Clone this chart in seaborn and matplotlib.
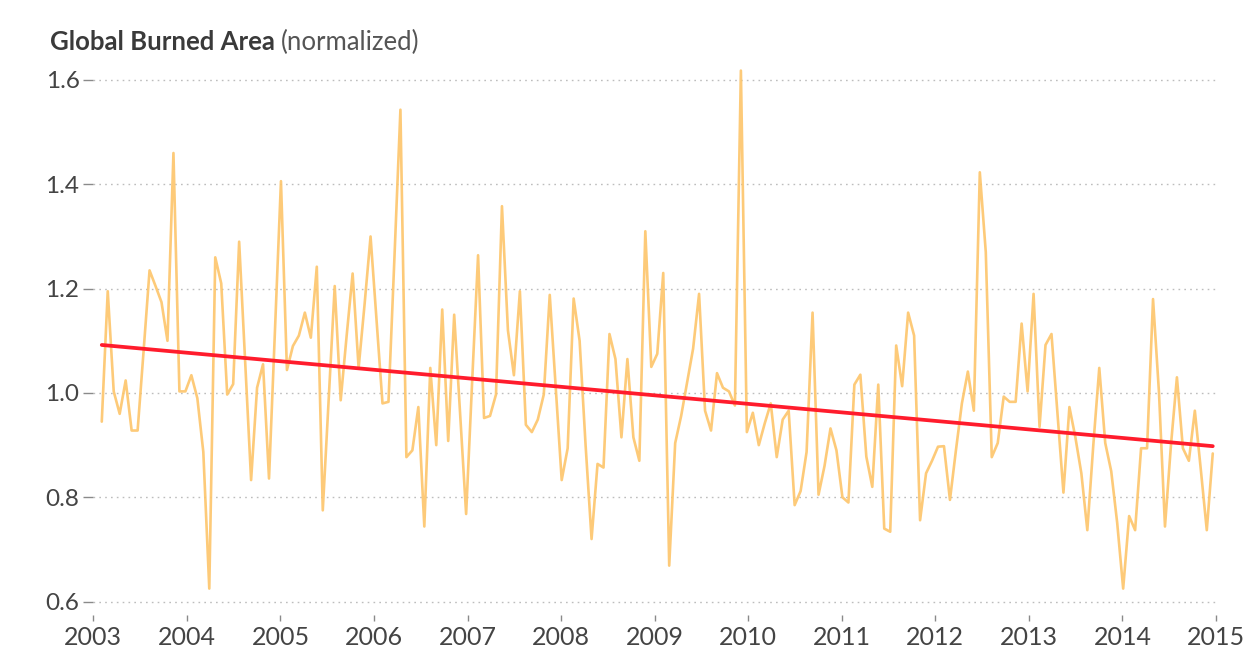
import numpy as np
import pandas as pd
import seaborn as sns
import matplotlib.pyplot as plt

# values, in time order (2003 -> end of 2014)
burned_area = [
    0.945, 1.195, 1.003, 0.96, 1.024, 0.928, 0.928, 1.08, 1.235, 1.205, 1.174, 1.10, 1.46, 1.003, 1.003,
    1.034, 0.99, 0.887, 0.625, 1.26, 1.21, 0.997, 1.017, 1.29, 1.06, 0.833, 1.01, 1.055, 0.836, 1.12, 1.406,
    1.044, 1.09, 1.11, 1.154, 1.106, 1.242, 0.775, 0.99, 1.205, 0.986, 1.11, 1.229, 1.048, 1.17, 1.30,
    1.14, 0.98, 0.983, 1.26, 1.543,
    0.877, 0.89, 0.973, 0.744, 1.048, 0.90, 1.16, 0.908, 1.15, 0.96, 0.768, 1.02, 1.264,
    0.952, 0.956, 0.997, 1.358, 1.12, 1.034, 1.195, 0.939, 0.925, 0.949, 0.997, 1.188, 1.01, 0.833,
    0.894, 1.181, 1.10, 0.9, 0.72,
    0.864, 0.857, 1.113, 1.065, 0.915, 1.065, 0.915, 0.87, 1.31,
    1.05, 1.075, 1.23, 0.669, 0.904, 0.956, 1.02, 1.085, 1.19, 0.966, 0.928, 1.038, 1.01, 1.003, 0.976, 1.618,
    0.925, 0.962, 0.90, 0.942, 0.98, 0.877, 0.949, 0.966, 0.785, 0.812, 0.887, 1.154, 0.805, 0.86, 0.932,
    0.89, 0.80, 0.79,
    1.016, 1.035, 0.878, 0.82, 1.016, 0.74, 0.734, 1.091, 1.013, 1.154, 1.11, 0.756, 0.846, 0.87, 0.897,
    0.898, 0.795, 0.89,
    0.98, 1.041, 0.966, 1.423, 1.27, 0.877, 0.904, 0.993, 0.983, 0.983, 1.133, 1.003, 1.19,
    0.935, 1.092, 1.113, 0.96, 0.809, 0.973, 0.915, 0.846, 0.737, 0.9, 1.048, 0.904, 0.85, 0.751, 0.625,
    0.764, 0.737, 0.894, 0.894, 1.18, 1.0, 0.744, 0.9, 1.03, 0.894, 0.87, 0.966, 0.853, 0.737, 0.884,
]
start_year = 2003.09
end_year = 2014.965

# linear trend (red line), value at the first and last time step
trend_values = [1.092, 0.898]

year_ticks = list(range(2003, 2016))
y_ticks = [0.6, 0.8, 1.0, 1.2, 1.4, 1.6]
y_tick_labels = ["0.6", "0.8", "1.0", "1.2", "1.4", "1.6"]

df = pd.DataFrame({"year": np.linspace(start_year, end_year, len(burned_area)),
                   "area": burned_area})
trend = pd.DataFrame({"year": [start_year, end_year], "area": trend_values})

sns.set_theme(style="white")
plt.rcParams["font.family"] = ["Lato", "DejaVu Sans"]

fig = plt.figure(figsize=(12.53, 6.53), dpi=100)
ax = fig.add_axes([0.0745, 0.0587, 0.896, 0.8428])

sns.lineplot(data=df, x="year", y="area", color="#FDC56A", linewidth=1.9, alpha=0.9, ax=ax)
sns.lineplot(data=trend, x="year", y="area", color="#FF1C2C", linewidth=2.7, ax=ax)

ax.set_xlim(2003, 2015)
ax.set_ylim(0.575, 1.63)
ax.set_xticks(year_ticks)
ax.set_xticklabels([str(y) for y in year_ticks])
ax.set_yticks(y_ticks)
ax.set_yticklabels(y_tick_labels)
ax.set_xlabel("")
ax.set_ylabel("")

# dotted horizontal grid only
ax.yaxis.grid(True, linestyle=(0, (1.2, 3)), color="#BDBDBD", linewidth=1.0)
ax.xaxis.grid(False)
ax.set_axisbelow(True)
for s in ax.spines.values():
    s.set_visible(False)

ax.tick_params(axis="y", left=True, length=7, width=1, color="#8a8a8a", pad=3,
               labelsize=17.5, labelcolor="#444444")
ax.tick_params(axis="x", bottom=True, length=4, width=1, color="#8a8a8a", pad=4,
               labelsize=18, labelcolor="#444444")

# title: bold part + normal part
t1 = fig.text(50 / 1253, 1 - 50 / 653, "Global Burned Area", fontsize=18.5,
              fontweight="bold", color="#3a3a3a", va="baseline")
fig.canvas.draw()
bb = t1.get_window_extent(renderer=fig.canvas.get_renderer())
fig.text((bb.x1 + 6) / 1253, 1 - 50 / 653, "(normalized)", fontsize=18.5,
         color="#555555", va="baseline")

plt.savefig("out.png", dpi=100)
